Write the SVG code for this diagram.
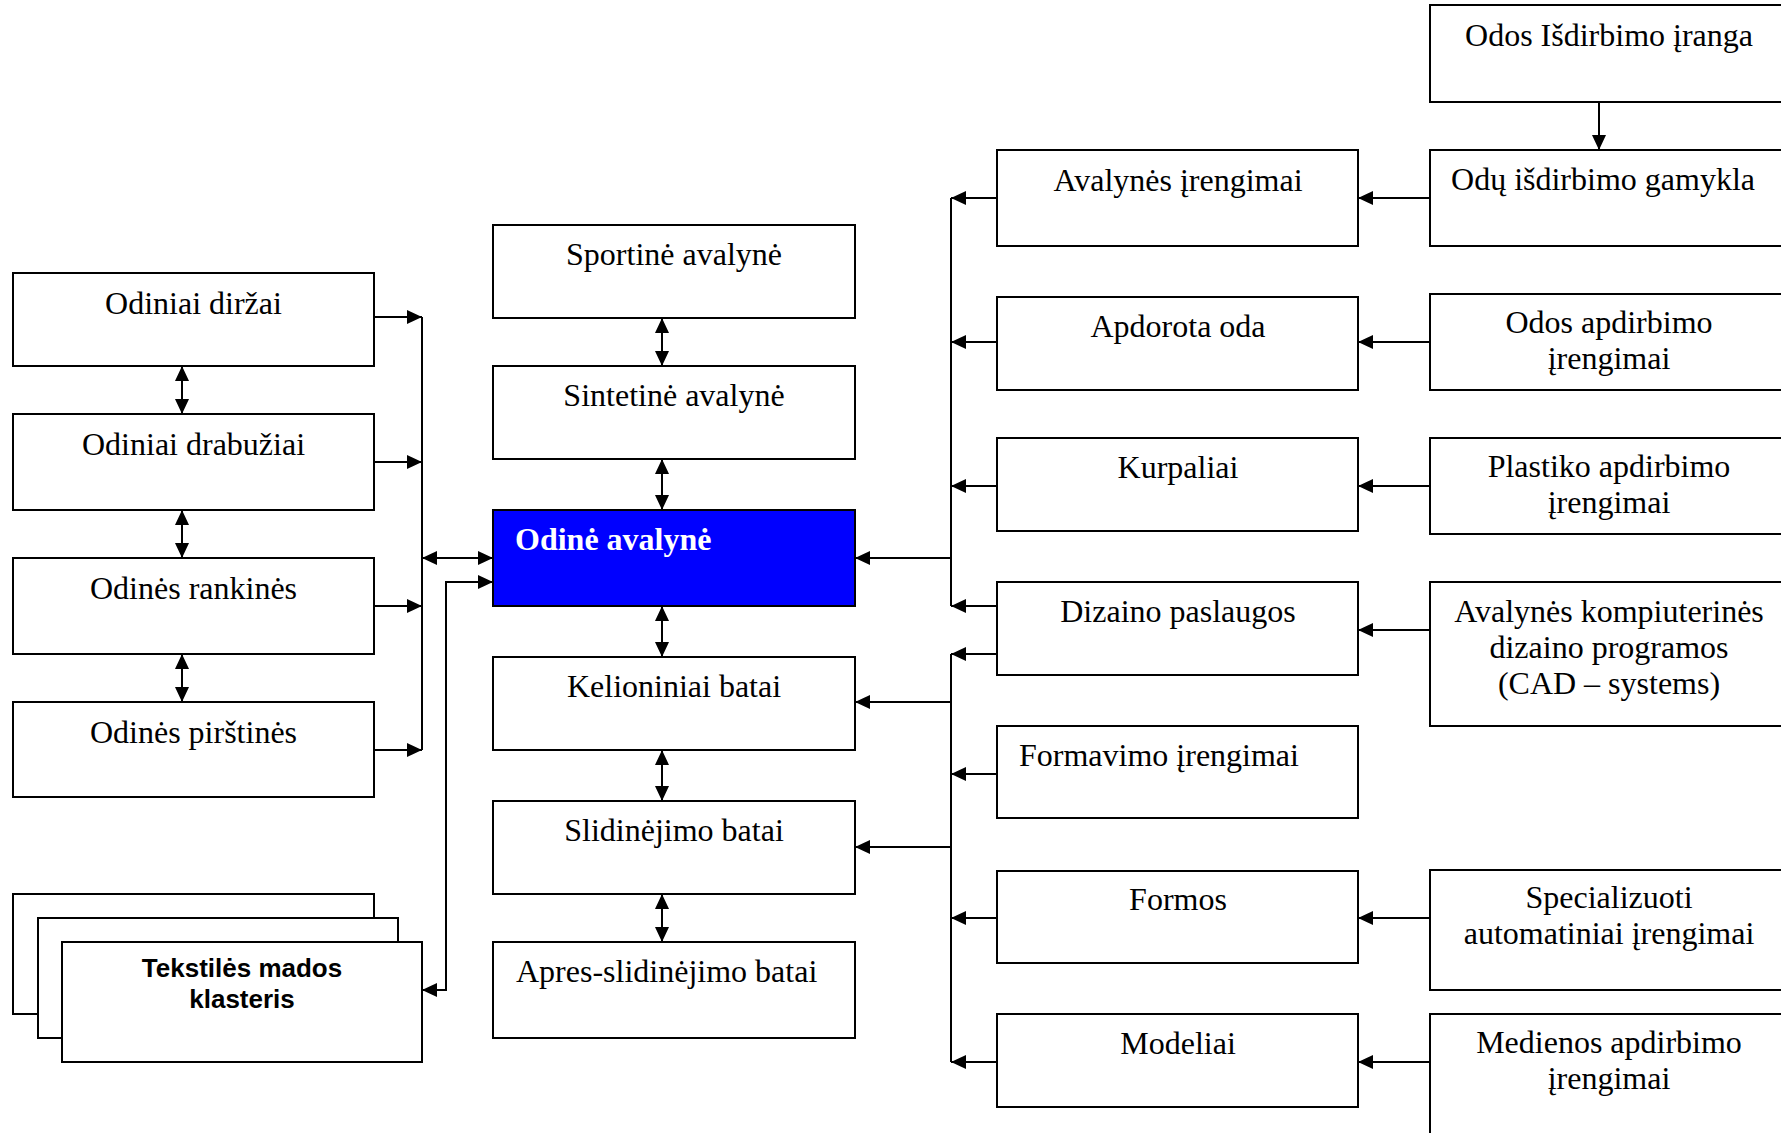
<svg xmlns="http://www.w3.org/2000/svg" width="1781" height="1133" viewBox="0 0 1781 1133">
<defs>
<marker id="ah" viewBox="0 0 15 14" refX="15" refY="7" markerWidth="15" markerHeight="14" markerUnits="userSpaceOnUse" orient="auto-start-reverse">
<path d="M0,0 L15,7 L0,14 z" fill="#000"/>
</marker>
<style>
.box{fill:#fff;stroke:#000;stroke-width:2}
.blue{fill:#0000ff;stroke:#000;stroke-width:2}
.t{font-family:"Liberation Serif","Times New Roman",serif;font-size:32px;fill:#000}
.c{text-anchor:middle}
.tb{font-family:"Liberation Serif","Times New Roman",serif;font-size:32px;font-weight:bold;fill:#fff}
.ts{font-family:"Liberation Sans",Arial,sans-serif;font-size:26px;font-weight:bold;fill:#000;text-anchor:middle}
.ln{fill:none;stroke:#000;stroke-width:2}
.a{marker-end:url(#ah)}
.d{marker-start:url(#ah);marker-end:url(#ah)}
</style>
</defs>
<g id="connectors">
<path class="ln a" d="M374,317 H422"/>
<path class="ln a" d="M374,462 H422"/>
<path class="ln a" d="M374,606 H422"/>
<path class="ln a" d="M374,750 H422"/>
<path class="ln" d="M422,317 V750"/>
<path class="ln d" d="M422,558 H493"/>
<path class="ln d" d="M422,990 H446 V582 H493"/>
<path class="ln d" d="M182,366 V414"/>
<path class="ln d" d="M182,510 V558"/>
<path class="ln d" d="M182,654 V702"/>
<path class="ln d" d="M662,318 V366"/>
<path class="ln d" d="M662,459 V510"/>
<path class="ln d" d="M662,606 V657"/>
<path class="ln d" d="M662,750 V801"/>
<path class="ln d" d="M662,894 V942"/>
<path class="ln" d="M951,198 V606"/>
<path class="ln" d="M951,654 V1062"/>
<path class="ln a" d="M997,198 H951"/>
<path class="ln a" d="M997,342 H951"/>
<path class="ln a" d="M997,486 H951"/>
<path class="ln a" d="M997,606 H951"/>
<path class="ln a" d="M997,654 H951"/>
<path class="ln a" d="M997,774 H951"/>
<path class="ln a" d="M997,918 H951"/>
<path class="ln a" d="M997,1062 H951"/>
<path class="ln a" d="M951,558 H855"/>
<path class="ln a" d="M951,702 H855"/>
<path class="ln a" d="M951,847 H855"/>
<path class="ln a" d="M1430,198 H1358"/>
<path class="ln a" d="M1430,342 H1358"/>
<path class="ln a" d="M1430,486 H1358"/>
<path class="ln a" d="M1430,630 H1358"/>
<path class="ln a" d="M1430,918 H1358"/>
<path class="ln a" d="M1430,1062 H1358"/>
<path class="ln a" d="M1599,102 V150"/>
</g>
<g id="n-dirzai"><rect class="box" x="13" y="273" width="361" height="93"/><text class="t c" x="193.5" y="314">Odiniai diržai</text></g>
<g id="n-drabuziai"><rect class="box" x="13" y="414" width="361" height="96"/><text class="t c" x="193.5" y="455">Odiniai drabužiai</text></g>
<g id="n-rankines"><rect class="box" x="13" y="558" width="361" height="96"/><text class="t c" x="193.5" y="599">Odinės rankinės</text></g>
<g id="n-pirstines"><rect class="box" x="13" y="702" width="361" height="95"/><text class="t c" x="193.5" y="743">Odinės pirštinės</text></g>
<g id="n-tekstiles">
<rect class="box" x="13" y="894" width="361" height="120"/>
<rect class="box" x="38" y="918" width="360" height="120"/>
<rect class="box" x="62" y="942" width="360" height="120"/>
<text class="ts" x="242" y="977">Tekstilės mados</text>
<text class="ts" x="242" y="1008">klasteris</text>
</g>
<g id="n-sportine"><rect class="box" x="493" y="225" width="362" height="93"/><text class="t c" x="674" y="265">Sportinė avalynė</text></g>
<g id="n-sintetine"><rect class="box" x="493" y="366" width="362" height="93"/><text class="t c" x="674" y="406">Sintetinė avalynė</text></g>
<g id="n-odine"><rect class="blue" x="493" y="510" width="362" height="96"/><text class="tb" x="515" y="550">Odinė avalynė</text></g>
<g id="n-kelioniniai"><rect class="box" x="493" y="657" width="362" height="93"/><text class="t c" x="674" y="697">Kelioniniai batai</text></g>
<g id="n-slidinejimo"><rect class="box" x="493" y="801" width="362" height="93"/><text class="t c" x="674" y="841">Slidinėjimo batai</text></g>
<g id="n-apres"><rect class="box" x="493" y="942" width="362" height="96"/><text class="t" x="516" y="982">Apres-slidinėjimo batai</text></g>
<g id="n-avalynes-irengimai"><rect class="box" x="997" y="150" width="361" height="96"/><text class="t c" x="1178" y="191">Avalynės įrengimai</text></g>
<g id="n-apdorota"><rect class="box" x="997" y="297" width="361" height="93"/><text class="t c" x="1178" y="337">Apdorota oda</text></g>
<g id="n-kurpaliai"><rect class="box" x="997" y="438" width="361" height="93"/><text class="t c" x="1178" y="478">Kurpaliai</text></g>
<g id="n-dizaino"><rect class="box" x="997" y="582" width="361" height="93"/><text class="t c" x="1178" y="622">Dizaino paslaugos</text></g>
<g id="n-formavimo"><rect class="box" x="997" y="726" width="361" height="92"/><text class="t" x="1019" y="766">Formavimo įrengimai</text></g>
<g id="n-formos"><rect class="box" x="997" y="871" width="361" height="92"/><text class="t c" x="1178" y="910">Formos</text></g>
<g id="n-modeliai"><rect class="box" x="997" y="1014" width="361" height="93"/><text class="t c" x="1178" y="1054">Modeliai</text></g>
<g id="n-odos-isdirbimo"><rect class="box" x="1430" y="5" width="360" height="97"/><text class="t c" x="1609" y="46">Odos Išdirbimo įranga</text></g>
<g id="n-odu-gamykla"><rect class="box" x="1430" y="150" width="360" height="96"/><text class="t c" x="1603" y="190">Odų išdirbimo gamykla</text></g>
<g id="n-odos-apdirbimo"><rect class="box" x="1430" y="294" width="360" height="96"/><text class="t c" x="1609" y="333">Odos apdirbimo</text><text class="t c" x="1609" y="369">įrengimai</text></g>
<g id="n-plastiko"><rect class="box" x="1430" y="438" width="360" height="96"/><text class="t c" x="1609" y="477">Plastiko apdirbimo</text><text class="t c" x="1609" y="513">įrengimai</text></g>
<g id="n-cad"><rect class="box" x="1430" y="582" width="360" height="144"/><text class="t c" x="1609" y="622">Avalynės kompiuterinės</text><text class="t c" x="1609" y="658">dizaino programos</text><text class="t c" x="1609" y="694">(CAD – systems)</text></g>
<g id="n-specializuoti"><rect class="box" x="1430" y="870" width="360" height="120"/><text class="t c" x="1609" y="908">Specializuoti</text><text class="t c" x="1609" y="944">automatiniai įrengimai</text></g>
<g id="n-medienos"><rect class="box" x="1430" y="1014" width="360" height="130"/><text class="t c" x="1609" y="1053">Medienos apdirbimo</text><text class="t c" x="1609" y="1089">įrengimai</text></g>
</svg>
